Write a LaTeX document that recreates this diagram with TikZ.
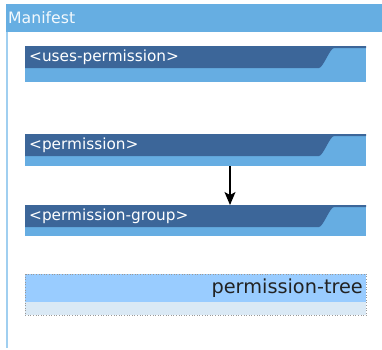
\documentclass[tikz,border=0pt]{standalone}
\usepackage{fontspec}
\setmainfont{DejaVu Sans}
\usetikzlibrary{arrows.meta}
\definecolor{headblue}{RGB}{102,174,226}
\definecolor{bardark}{RGB}{60,102,153}
\definecolor{barlight}{RGB}{102,173,226}
\definecolor{edgeblue}{RGB}{160,207,240}
\definecolor{treetop}{RGB}{153,204,255}
\definecolor{treebottom}{RGB}{218,233,245}
\definecolor{treetext}{RGB}{34,34,34}
\tikzset{
  barbox/.style={anchor=north west, inner sep=0pt, minimum width=341pt,
    fill=barlight},
  bartext/.style={anchor=west, inner sep=0pt, text=white,
    font=\fontsize{15.3}{17}\selectfont},
  treebox/.style={anchor=north west, inner sep=0pt, minimum width=341pt,
    minimum height=41pt},
  treeframe/.style={draw=gray!80, dotted, line width=0.6pt},
  link/.style={-{Stealth[length=13pt,width=11pt,inset=3pt]}, line width=1.2pt, black}
}
\begin{document}
\begin{tikzpicture}[x=1pt, y=-1pt]
  \useasboundingbox (0,0) rectangle (382,349);
  % container: header band and left edge
  \fill[headblue] (6,4) rectangle (382,32);
  \draw[edgeblue, line width=1.5pt] (7,32) -- (7,348);
  \node[anchor=west, inner sep=0pt, text=white!92!headblue,
        font=\fontsize{15.7}{17}\selectfont] (manifest) at (8,18) {Manifest};
  % element bars
  \node[barbox, minimum height=36pt] (uses) at (25,46) {};
  \node[barbox, minimum height=32pt] (perm) at (25,134) {};
  \node[barbox, minimum height=31pt] (group) at (25,205) {};
  % dark title band of each bar, with its sloped right end
  \foreach \b in {uses,perm,group}{
    \begin{scope}[shift={(\b.north west)}]
      \fill[bardark] (0,0) -- (341,0) -- (341,2) -- (309,2)
        .. controls (305,2) and (298,22) .. (294,22) -- (0,22) -- cycle;
    \end{scope}
  }
  \node[bartext] (usestxt) at (29,57) {<uses-permission>};
  \node[bartext] (permtxt) at (29,145) {<permission>};
  \node[bartext] (grouptxt) at (29,216) {<permission-group>};
  % tree box
  \node[treebox] (tree) at (25,274) {};
  \begin{scope}[shift={(tree.north west)}]
    \fill[treetop] (0,0) rectangle (341,28);
    \fill[treebottom] (0,28) rectangle (341,41);
  \end{scope}
  \draw[treeframe] (tree.north west) rectangle (tree.south east);
  \node[anchor=east, inner sep=0pt, text=treetext,
        font=\fontsize{19.3}{22}\selectfont] (treetxt) at (363,288) {permission-tree};
  % link
  \coordinate (ax) at (230,0);
  \draw[link] (perm.south -| ax) -- (group.north -| ax);
\end{tikzpicture}
\end{document}
